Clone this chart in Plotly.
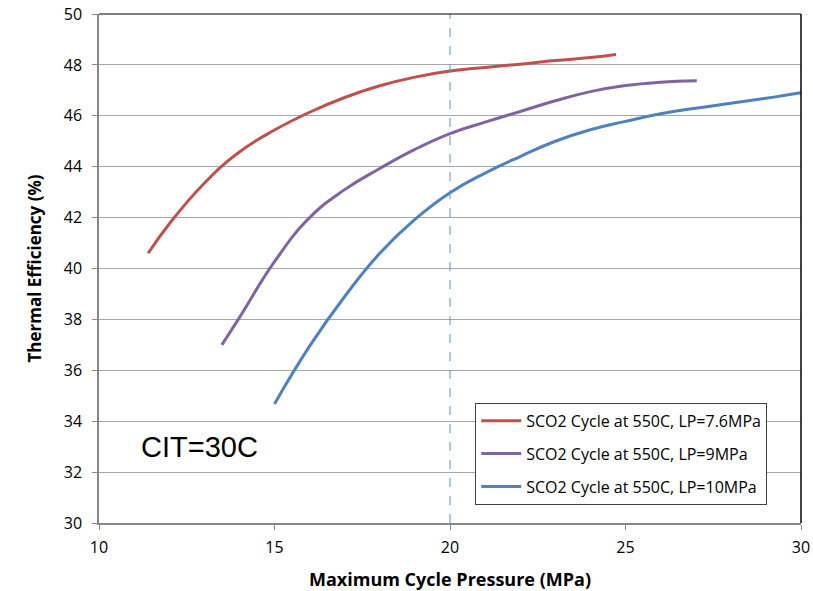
import plotly.graph_objects as go

# ---- data ----
red_x = [11.4, 12, 13, 14, 15, 16, 17, 18, 19, 20, 21, 22, 23, 24, 24.73]
red_y = [40.6, 41.75, 43.35, 44.58, 45.44, 46.14, 46.72, 47.18, 47.52, 47.76, 47.9, 48.03, 48.17, 48.29, 48.41]

purple_x = [13.5, 14, 15, 16, 17, 18, 19, 20, 21, 22, 23, 24, 25, 26, 27.03]
purple_y = [37.0, 38.07, 40.27, 42.0, 43.1, 43.93, 44.68, 45.3, 45.75, 46.17, 46.59, 46.95, 47.19, 47.32, 47.38]

blue_x = [15.0, 16, 17, 18, 19, 20, 21, 22, 23, 24, 25, 26, 27, 28, 29, 30]
blue_y = [34.68, 36.95, 38.9, 40.6, 41.93, 42.98, 43.75, 44.4, 45.0, 45.45, 45.78, 46.08, 46.3, 46.49, 46.69, 46.91]

series_names = [
    "SCO2 Cycle at 550C, LP=7.6MPa",
    "SCO2 Cycle at 550C, LP=9MPa",
    "SCO2 Cycle at 550C, LP=10MPa",
]
series_colors = ["#c0504d", "#8064a2", "#4f81bd"]

x_ticks = [10, 15, 20, 25, 30]
y_ticks = [30, 32, 34, 36, 38, 40, 42, 44, 46, 48, 50]
ref_pressure = 20
note_text = "CIT=30C"
note_pos = (12.85, 33.0)

FONT = "Open Sans"

fig = go.Figure()
for i, (xs, ys) in enumerate([(red_x, red_y), (purple_x, purple_y), (blue_x, blue_y)]):
    fig.add_trace(go.Scatter(
        x=xs, y=ys, mode="lines", name=series_names[i],
        line=dict(color=series_colors[i], width=3, shape="spline", smoothing=1.3),
        legendgroup=f"g{i}",
    ))

fig.add_shape(type="line", xref="x", yref="paper", x0=ref_pressure, x1=ref_pressure,
              y0=0, y1=1, line=dict(color="#5b8ed0", width=1, dash="dash"))
# top and right border of plot area
fig.add_shape(type="line", xref="paper", yref="paper", x0=0, x1=1, y0=1, y1=1,
              line=dict(color="#000000", width=1))
fig.add_shape(type="line", xref="paper", yref="paper", x0=1, x1=1, y0=0, y1=1,
              line=dict(color="#000000", width=1.5))

fig.add_annotation(x=note_pos[0], y=note_pos[1], xref="x", yref="y", text=note_text,
                   showarrow=False, font=dict(family="Liberation Sans", size=29, color="#000000"))

fig.update_layout(
    width=813, height=591,
    margin=dict(l=99, r=12, t=14, b=68),
    paper_bgcolor="white", plot_bgcolor="white",
    font=dict(family=FONT, color="#000000"),
    showlegend=True,
    legend=dict(
        x=0.536, y=0.236, xanchor="left", yanchor="top",
        bordercolor="#404040", borderwidth=1, bgcolor="white",
        font=dict(family=FONT, size=16, color="#000000"),
        tracegroupgap=9, itemwidth=40,
    ),
    xaxis=dict(
        range=[10, 30], tickvals=x_ticks, ticks="outside", ticklen=5, tickcolor="#868686",
        showline=True, linecolor="#868686", linewidth=1.5, showgrid=False, zeroline=False,
        tickfont=dict(family=FONT, size=16), automargin=False, ticklabelstandoff=4,
        title=dict(text="<b>Maximum Cycle Pressure (MPa)</b>", font=dict(family=FONT, size=18), standoff=16),
    ),
    yaxis=dict(
        range=[30, 50], tickvals=y_ticks, ticks="outside", ticklen=5, tickcolor="#868686",
        showline=True, linecolor="#868686", linewidth=1.5, showgrid=True, gridcolor="#a6a6a6",
        gridwidth=1, zeroline=False,
        tickfont=dict(family=FONT, size=16), automargin=False, ticklabelstandoff=7,
        title=dict(text="<b>Thermal Efficiency (%)</b>", font=dict(family=FONT, size=17), standoff=18),
    ),
)

fig.write_html("out.html")
